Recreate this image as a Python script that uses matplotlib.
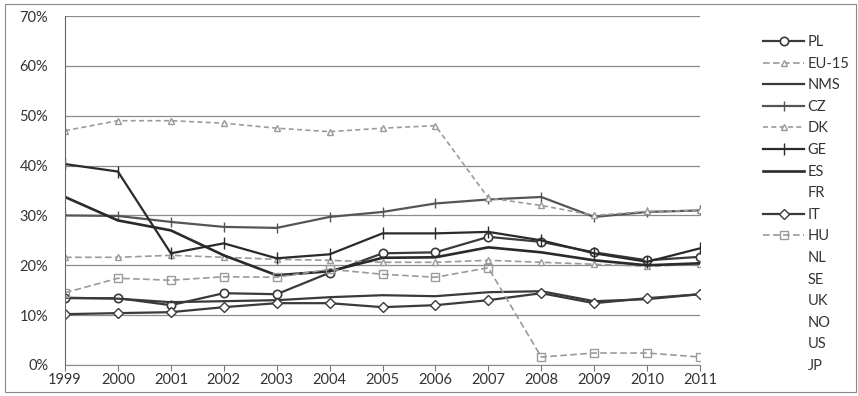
import matplotlib.pyplot as plt
from matplotlib.patches import Rectangle

plt.rcParams['font.family'] = ['Lato', 'DejaVu Sans']

years = list(range(1999, 2012))

# shares (in %)
pl = [13.4, 13.4, 12.0, 14.4, 14.2, 18.5, 22.4, 22.6, 25.7, 24.7, 22.6, 21.0, 21.7]
eu15 = [21.6, 21.6, 22.0, 21.6, 21.2, 21.0, 20.6, 20.6, 21.0, 20.6, 20.2, 19.8, 20.2]
nms = [13.5, 13.3, 12.6, 12.8, 13.0, 13.6, 14.0, 13.8, 14.6, 14.8, 12.8, 13.2, 14.2]
cz = [30.0, 29.9, 28.7, 27.7, 27.5, 29.7, 30.7, 32.4, 33.2, 33.7, 29.7, 30.7, 31.0]
dk = [47.0, 49.0, 49.0, 48.5, 47.5, 46.8, 47.5, 48.0, 33.5, 32.0, 30.0, 30.8, 31.0]
ge = [40.3, 38.8, 22.4, 24.4, 21.4, 22.2, 26.4, 26.4, 26.7, 25.0, 22.4, 20.7, 23.4]
es = [33.7, 29.0, 27.0, 22.0, 18.0, 18.8, 21.5, 21.6, 23.6, 22.6, 21.0, 20.0, 20.4]
it = [10.2, 10.4, 10.6, 11.6, 12.4, 12.4, 11.6, 12.0, 13.0, 14.4, 12.4, 13.4, 14.2]
hu = [14.5, 17.4, 17.0, 17.7, 17.6, 19.2, 18.2, 17.6, 19.5, 1.6, 2.4, 2.4, 1.6]
hidden = ['NL', 'SE', 'UK', 'NO', 'US', 'JP']  # lines lost in the scan

dark = '#3a3a3a'
light = '#9a9a9a'

fig = plt.figure(figsize=(8.58, 3.96), dpi=100)
ax = fig.add_axes([65 / 858, 1 - 365 / 396, 635 / 858, 349 / 396])

ax.plot(years, pl, color=dark, lw=1.6, marker='o', ms=6, mfc='white', mec=dark, mew=1.2, label='PL')
ax.plot(years, eu15, color=light, lw=1.2, ls=(0, (4, 2)), marker='^', ms=5, mfc='white', mec=light, label='EU-15')
ax.plot(years, nms, color=dark, lw=1.6, label='NMS')
ax.plot(years, cz, color='#555555', lw=1.6, marker='|', ms=7, mec='#555555', label='CZ')
ax.plot(years, dk, color=light, lw=1.2, ls=(0, (3, 2)), marker='^', ms=5, mfc='white', mec=light, label='DK')
ax.plot(years, ge, color='#2a2a2a', lw=1.6, marker='|', ms=8, mec='#2a2a2a', label='GE')
ax.plot(years, es, color='#2a2a2a', lw=1.9, label='ES')
ax.plot([], [], color='none', label='FR')
ax.plot(years, it, color=dark, lw=1.6, marker='D', ms=5, mfc='white', mec=dark, label='IT')
ax.plot(years, hu, color=light, lw=1.2, ls=(0, (4, 2)), marker='s', ms=6, mfc='none', mec=light, label='HU')
for name in hidden:
    ax.plot([], [], color='none', label=name)

ax.set_xlim(1999, 2011)
ax.set_ylim(0, 70)
ax.set_xticks(years)
ax.set_yticks(range(0, 71, 10))
ax.set_yticklabels(['{}%'.format(v) for v in range(0, 71, 10)])
ax.grid(axis='y', color='#8a8a8a', lw=0.9)
ax.set_axisbelow(True)
for s in ['top', 'right']:
    ax.spines[s].set_visible(False)
ax.spines['left'].set_color('#666666')
ax.spines['bottom'].set_color('#8a8a8a')
ax.tick_params(axis='y', length=0, labelsize=10.5, colors='#333333', pad=12)
ax.tick_params(axis='x', length=4, direction='out', color='#777777', labelsize=10.5, labelcolor='#333333', pad=2)

fig.legend(loc='upper left', bbox_to_anchor=(750 / 858, 1 - 22 / 396), frameon=False,
           fontsize=10.5, labelspacing=0.52, handlelength=2.8, handletextpad=0.25,
           labelcolor='#333333')

# outer frame of the scanned figure
fig.patches.append(Rectangle((5 / 858, 4 / 396), 851 / 858, 388 / 396, transform=fig.transFigure,
                             fill=False, ec='#888888', lw=0.8))

fig.savefig('out.png', dpi=100, facecolor='white')
